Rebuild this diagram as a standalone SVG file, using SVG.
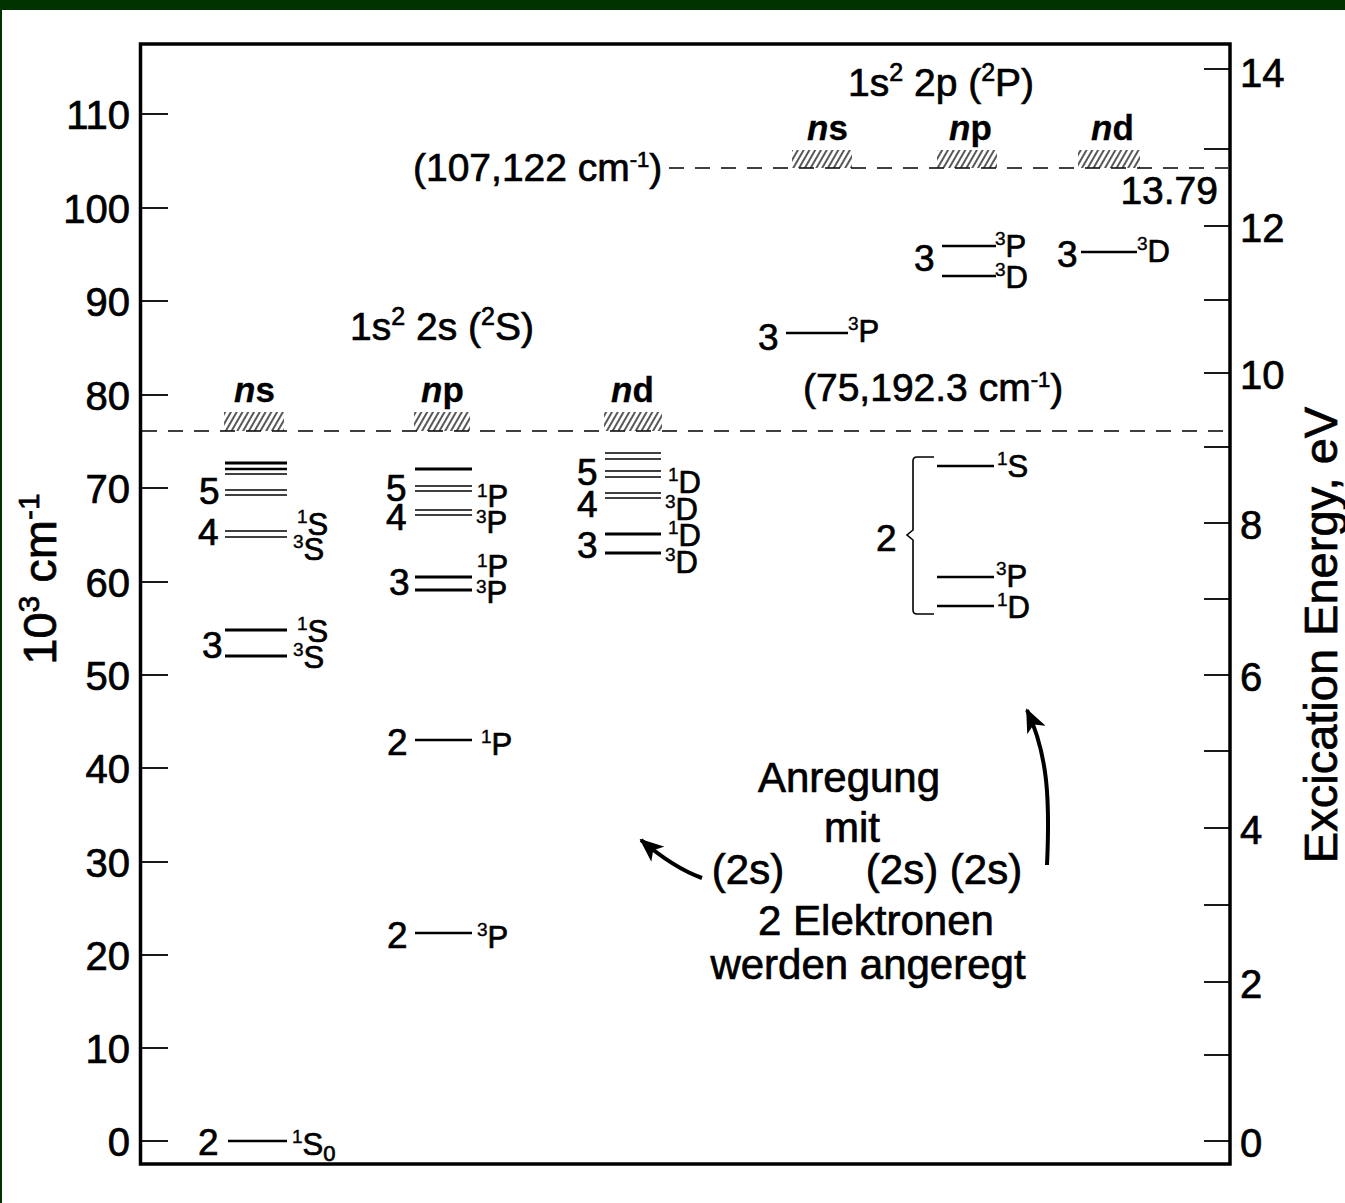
<svg xmlns="http://www.w3.org/2000/svg" width="1345" height="1203" viewBox="0 0 1345 1203">
<style>
text{font-family:"Liberation Sans",Arial,sans-serif;fill:#000;stroke:#000;stroke-width:0.7}
.tick{font-size:40px}
.num{font-size:37px}
.term{font-size:31px}
.s{font-size:19px;stroke-width:0.4}
.hs{font-size:25px}
.hdr{font-size:39px}
.big{font-size:42px}
.orb{font-size:35px;font-weight:bold;stroke-width:0.3}
.axl{font-size:47px}
.lv{stroke:#000;fill:none}
.thin{stroke-width:1.6}
.thick{stroke-width:3}
.med{stroke-width:2.5}
.dash{stroke:#000;stroke-width:1.6;stroke-dasharray:15 11;fill:none}
.tk{stroke:#000;stroke-width:1.8}
</style>
<defs>
<pattern id="hatch" width="5" height="5" patternUnits="userSpaceOnUse" patternTransform="rotate(30)">
<line x1="1" y1="0" x2="1" y2="5" stroke="#111" stroke-width="1.4"/>
</pattern>
<marker id="ah" markerUnits="userSpaceOnUse" markerWidth="24" markerHeight="20" viewBox="0 0 24 20" refX="22" refY="10" orient="auto">
<path d="M0,0 L24,10 L0,20 L6,10 z" fill="#000"/>
</marker>
</defs>
<rect x="0" y="0" width="1345" height="1203" fill="#fff"/>
<rect x="0" y="0" width="1345" height="10" fill="#003300"/>
<rect x="0" y="0" width="2" height="1203" fill="#003300"/>

<g id="frame">
<rect x="140.5" y="44" width="1089.5" height="1120" fill="none" stroke="#000" stroke-width="3.5"/>
<g class="tk">
<line x1="140" y1="114" x2="168" y2="114"/><line x1="140" y1="208" x2="168" y2="208"/>
<line x1="140" y1="301" x2="168" y2="301"/><line x1="140" y1="395" x2="168" y2="395"/>
<line x1="140" y1="488" x2="168" y2="488"/><line x1="140" y1="582" x2="168" y2="582"/>
<line x1="140" y1="675" x2="168" y2="675"/><line x1="140" y1="768" x2="168" y2="768"/>
<line x1="140" y1="862" x2="168" y2="862"/><line x1="140" y1="955" x2="168" y2="955"/>
<line x1="140" y1="1048" x2="168" y2="1048"/><line x1="140" y1="1141" x2="168" y2="1141"/>
<line x1="1204" y1="69" x2="1230" y2="69"/><line x1="1204" y1="149" x2="1230" y2="149"/>
<line x1="1204" y1="226" x2="1230" y2="226"/><line x1="1204" y1="300" x2="1230" y2="300"/>
<line x1="1204" y1="373" x2="1230" y2="373"/><line x1="1204" y1="447" x2="1230" y2="447"/>
<line x1="1204" y1="523" x2="1230" y2="523"/><line x1="1204" y1="599" x2="1230" y2="599"/>
<line x1="1204" y1="675" x2="1230" y2="675"/><line x1="1204" y1="751" x2="1230" y2="751"/>
<line x1="1204" y1="828" x2="1230" y2="828"/><line x1="1204" y1="905" x2="1230" y2="905"/>
<line x1="1204" y1="982" x2="1230" y2="982"/><line x1="1204" y1="1055" x2="1230" y2="1055"/>
<line x1="1204" y1="1141" x2="1230" y2="1141"/>
</g>
<g class="tick" text-anchor="end">
<text x="130" y="129">110</text><text x="130" y="223">100</text><text x="130" y="316">90</text>
<text x="130" y="410">80</text><text x="130" y="503">70</text><text x="130" y="597">60</text>
<text x="130" y="690">50</text><text x="130" y="783">40</text><text x="130" y="877">30</text>
<text x="130" y="970">20</text><text x="130" y="1063">10</text><text x="130" y="1156">0</text>
</g>
<g class="tick">
<text x="1240" y="87">14</text><text x="1240" y="242">12</text><text x="1240" y="389">10</text>
<text x="1240" y="539">8</text><text x="1240" y="691">6</text><text x="1240" y="844">4</text>
<text x="1240" y="998">2</text><text x="1240" y="1157">0</text>
</g>
<text class="axl" transform="translate(56,579) rotate(-90)" text-anchor="middle">10<tspan font-size="30" dy="-17">3</tspan><tspan dy="17"> cm</tspan><tspan font-size="30" dy="-17">-1</tspan></text>
<text class="axl" transform="translate(1337,635) rotate(-90)" text-anchor="middle">Excication Energy, eV</text>
</g>

<g id="limits">
<line class="dash" x1="669" y1="168" x2="1228" y2="168"/>
<line class="dash" x1="142" y1="431" x2="1228" y2="431"/>
<rect x="792" y="150" width="60" height="18" fill="url(#hatch)"/>
<rect x="937" y="150" width="60" height="18" fill="url(#hatch)"/>
<rect x="1078" y="150" width="62" height="18" fill="url(#hatch)"/>
<rect x="224" y="412" width="60" height="19" fill="url(#hatch)"/>
<rect x="414" y="412" width="56" height="19" fill="url(#hatch)"/>
<rect x="604" y="412" width="58" height="19" fill="url(#hatch)"/>
<text class="hdr" x="413" y="181">(107,122 cm<tspan font-size="22" dy="-14">-1</tspan><tspan dy="14">)</tspan></text>
<text class="hdr" x="1218" y="204" text-anchor="end">13.79</text>
<text class="hdr" x="803" y="401">(75,192.3 cm<tspan font-size="22" dy="-14">-1</tspan><tspan dy="14">)</tspan></text>
<text class="hdr" x="848" y="96">1s<tspan class="hs" dy="-15">2</tspan><tspan dy="15"> 2p (</tspan><tspan class="hs" dy="-15">2</tspan><tspan dy="15">P)</tspan></text>
<text class="hdr" x="350" y="340">1s<tspan class="hs" dy="-15">2</tspan><tspan dy="15"> 2s (</tspan><tspan class="hs" dy="-15">2</tspan><tspan dy="15">S)</tspan></text>
<text class="orb" x="807" y="140"><tspan font-style="italic">n</tspan>s</text>
<text class="orb" x="949" y="140"><tspan font-style="italic">n</tspan>p</text>
<text class="orb" x="1091" y="140"><tspan font-style="italic">n</tspan>d</text>
<text class="orb" x="234" y="402"><tspan font-style="italic">n</tspan>s</text>
<text class="orb" x="421" y="402"><tspan font-style="italic">n</tspan>p</text>
<text class="orb" x="611" y="402"><tspan font-style="italic">n</tspan>d</text>
</g>

<g id="ns-levels">
<line class="lv thick" x1="225" y1="463" x2="287" y2="463"/>
<line class="lv med" x1="225" y1="469" x2="287" y2="469"/>
<line class="lv thin" x1="225" y1="474" x2="287" y2="474"/>
<line class="lv thin" x1="225" y1="490" x2="287" y2="490"/>
<line class="lv thin" x1="225" y1="495" x2="287" y2="495"/>
<line class="lv thin" x1="225" y1="531" x2="287" y2="531"/>
<line class="lv thin" x1="225" y1="537" x2="287" y2="537"/>
<line class="lv thick" x1="225" y1="630" x2="287" y2="630"/>
<line class="lv thick" x1="225" y1="656" x2="287" y2="656"/>
<text class="num" x="199" y="504">5</text>
<text class="num" x="198" y="545">4</text>
<text class="num" x="202" y="658">3</text>
<text class="term" x="297" y="535"><tspan class="s" dy="-12">1</tspan><tspan dy="12">S</tspan></text>
<text class="term" x="293" y="560"><tspan class="s" dy="-12">3</tspan><tspan dy="12">S</tspan></text>
<text class="term" x="297" y="642"><tspan class="s" dy="-12">1</tspan><tspan dy="12">S</tspan></text>
<text class="term" x="293" y="668"><tspan class="s" dy="-12">3</tspan><tspan dy="12">S</tspan></text>
</g>

<g id="ground">
<line class="lv med" x1="228" y1="1141" x2="287" y2="1141"/>
<text class="num" x="198" y="1155">2</text>
<text class="term" x="292" y="1155"><tspan class="s" dy="-12">1</tspan><tspan dy="12">S</tspan><tspan font-size="22" dy="6">0</tspan></text>
</g>

<g id="np-levels">
<line class="lv thick" x1="415" y1="469" x2="472" y2="469"/>
<line class="lv thin" x1="415" y1="486" x2="472" y2="486"/>
<line class="lv thin" x1="415" y1="491" x2="472" y2="491"/>
<line class="lv thin" x1="415" y1="510" x2="472" y2="510"/>
<line class="lv thin" x1="415" y1="515" x2="472" y2="515"/>
<line class="lv thick" x1="415" y1="577" x2="472" y2="577"/>
<line class="lv thick" x1="415" y1="590" x2="472" y2="590"/>
<text class="num" x="386" y="501">5</text>
<text class="num" x="386" y="530">4</text>
<text class="num" x="389" y="595">3</text>
<text class="term" x="477" y="507"><tspan class="s" dy="-10">1</tspan><tspan dy="10">P</tspan></text>
<text class="term" x="476" y="533"><tspan class="s" dy="-10">3</tspan><tspan dy="10">P</tspan></text>
<text class="term" x="477" y="577"><tspan class="s" dy="-10">1</tspan><tspan dy="10">P</tspan></text>
<text class="term" x="476" y="603"><tspan class="s" dy="-10">3</tspan><tspan dy="10">P</tspan></text>
</g>

<g id="np2-1P">
<line class="lv med" x1="415" y1="740" x2="472" y2="740"/>
<text class="num" x="387" y="755">2</text>
<text class="term" x="481" y="755"><tspan class="s" dy="-12">1</tspan><tspan dy="12">P</tspan></text>
</g>
<g id="np2-3P">
<line class="lv med" x1="415" y1="933" x2="472" y2="933"/>
<text class="num" x="387" y="948">2</text>
<text class="term" x="477" y="948"><tspan class="s" dy="-12">3</tspan><tspan dy="12">P</tspan></text>
</g>

<g id="nd-levels">
<line class="lv thin" x1="605" y1="453" x2="661" y2="453"/>
<line class="lv thin" x1="605" y1="459" x2="661" y2="459"/>
<line class="lv thin" x1="605" y1="471" x2="661" y2="471"/>
<line class="lv thin" x1="605" y1="477" x2="661" y2="477"/>
<line class="lv thin" x1="605" y1="493" x2="661" y2="493"/>
<line class="lv thin" x1="605" y1="498" x2="661" y2="498"/>
<line class="lv thick" x1="605" y1="534" x2="661" y2="534"/>
<line class="lv thick" x1="605" y1="553" x2="661" y2="553"/>
<text class="num" x="577" y="485">5</text>
<text class="num" x="577" y="517">4</text>
<text class="num" x="577" y="558">3</text>
<text class="term" x="668" y="493"><tspan class="s" dy="-12">1</tspan><tspan dy="12">D</tspan></text>
<text class="term" x="665" y="520"><tspan class="s" dy="-12">3</tspan><tspan dy="12">D</tspan></text>
<text class="term" x="668" y="546"><tspan class="s" dy="-12">1</tspan><tspan dy="12">D</tspan></text>
<text class="term" x="665" y="573"><tspan class="s" dy="-12">3</tspan><tspan dy="12">D</tspan></text>
</g>

<g id="p2-ns3">
<line class="lv med" x1="786" y1="333" x2="848" y2="333"/>
<text class="num" x="758" y="350">3</text>
<text class="term" x="848" y="342"><tspan class="s" dy="-12">3</tspan><tspan dy="12">P</tspan></text>
</g>
<g id="p2-np3">
<line class="lv med" x1="942" y1="246" x2="996" y2="246"/>
<line class="lv med" x1="942" y1="276" x2="996" y2="276"/>
<text class="num" x="914" y="271">3</text>
<text class="term" x="995" y="257"><tspan class="s" dy="-12">3</tspan><tspan dy="12">P</tspan></text>
<text class="term" x="995" y="288"><tspan class="s" dy="-12">3</tspan><tspan dy="12">D</tspan></text>
</g>
<g id="p2-nd3">
<line class="lv med" x1="1081" y1="252" x2="1137" y2="252"/>
<text class="num" x="1057" y="267">3</text>
<text class="term" x="1137" y="262"><tspan class="s" dy="-12">3</tspan><tspan dy="12">D</tspan></text>
</g>

<g id="double-excited">
<path d="M934,457 H917 Q913,457 913,461 V530 L907,535 L913,540 V610 Q913,614 917,614 H934" fill="none" stroke="#000" stroke-width="1.6"/>
<text class="num" x="876" y="551">2</text>
<line class="lv med" x1="937" y1="466" x2="994" y2="466"/>
<line class="lv med" x1="937" y1="577" x2="994" y2="577"/>
<line class="lv med" x1="937" y1="606" x2="994" y2="606"/>
<text class="term" x="997" y="477"><tspan class="s" dy="-12">1</tspan><tspan dy="12">S</tspan></text>
<text class="term" x="996" y="587"><tspan class="s" dy="-12">3</tspan><tspan dy="12">P</tspan></text>
<text class="term" x="997" y="618"><tspan class="s" dy="-12">1</tspan><tspan dy="12">D</tspan></text>
</g>

<g id="annotation" class="big" text-anchor="middle">
<text x="849" y="792">Anregung</text>
<text x="852" y="842">mit</text>
<text x="748" y="884">(2s)</text>
<text x="944" y="884">(2s) (2s)</text>
<text x="876" y="935">2 Elektronen</text>
<text x="868" y="979">werden angeregt</text>
</g>

<g id="connectors" fill="none" stroke="#000" stroke-width="4">
<path d="M702,878 Q674,868 641,840" marker-end="url(#ah)"/>
<path d="M1047,865 C1050,800 1048,755 1027,710" marker-end="url(#ah)"/>
</g>
</svg>
